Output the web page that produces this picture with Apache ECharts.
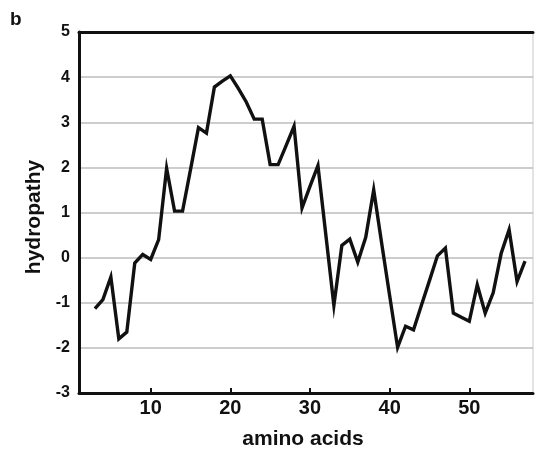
<!DOCTYPE html>
<html>
<head>
<meta charset="utf-8">
<script src="https://cdn.jsdelivr.net/npm/echarts@6/dist/echarts.min.js"></script>
<style>
html,body{margin:0;padding:0;background:#fff;}
#chart{width:535px;height:453px;}
</style>
</head>
<body>
<div id="chart"></div>
<script>
// amino acid positions (window centres)
const aminoAcids = [3,4,5,6,7,8,9,10,11,12,13,14,15,16,17,18,19,20,21,22,23,24,25,26,27,28,29,30,31,32,33,34,35,36,37,38,39,40,41,42,43,44,45,46,47,48,49,50,51,52,53,54,55,56,57];
// hydropathy values
const hydropathy = [-1.13,-0.93,-0.43,-1.80,-1.65,-0.12,0.07,-0.04,0.40,1.98,
  1.03,1.03,1.95,2.88,2.76,3.78,3.91,4.03,3.75,3.45,
  3.07,3.07,2.06,2.06,2.48,2.91,1.10,1.58,2.04,0.49,
  -1.06,0.27,0.41,-0.10,0.45,1.50,0.32,-0.84,-1.99,-1.52,
  -1.60,-1.05,-0.51,0.04,0.21,-1.23,-1.32,-1.41,-0.60,-1.23,
  -0.78,0.09,0.62,-0.53,-0.08];
const xTicks = [10,20,30,40,50];
const yTicks = [-3,-2,-1,0,1,2,3,4,5];
const panelLabel = 'b';
const xTitle = 'amino acids';
const yTitle = 'hydropathy';

const FONT = '"Liberation Sans", Arial, sans-serif';
const chart = echarts.init(document.getElementById('chart'));
chart.setOption({
  animation: false,
  backgroundColor: '#fff',
  grid: {left: 79, top: 32, right: 2, bottom: 60, show: true, borderColor: '#c8c8c8', borderWidth: 1},
  xAxis: [{
    type: 'value', min: 1, max: 58,
    axisLine: {show: true, onZero: false, lineStyle: {color: '#111', width: 3}},
    axisTick: {show: true, inside: true, length: 5, customValues: xTicks, lineStyle: {color: '#111', width: 2}},
    axisLabel: {customValues: xTicks, fontFamily: FONT, fontWeight: 'bold', fontSize: 20, color: '#111', margin: 5},
    splitLine: {show: false}
  }, {
    type: 'value', min: 1, max: 58, position: 'top',
    axisLine: {show: true, onZero: false, lineStyle: {color: '#111', width: 3}},
    axisTick: {show: false}, axisLabel: {show: false}, splitLine: {show: false}
  }],
  yAxis: {
    type: 'value', min: yTicks[0], max: yTicks[yTicks.length - 1], interval: 1,
    axisLine: {show: true, onZero: false, lineStyle: {color: '#111', width: 3}},
    axisTick: {show: false},
    axisLabel: {fontFamily: FONT, fontWeight: 'bold', fontSize: 16, color: '#111', margin: 9},
    splitLine: {show: true, lineStyle: {color: '#bdbdbd', width: 1.5}}
  },
  series: [{
    type: 'line',
    data: aminoAcids.map((a, i) => [a, hydropathy[i]]),
    showSymbol: false,
    lineStyle: {color: '#111', width: 3.4, join: 'miter'},
    z: 5
  }],
  graphic: [
    {type: 'text', left: 10, top: 10, style: {text: panelLabel, fontFamily: FONT, fontWeight: 'bold', fontSize: 19, fill: '#111'}},
    {type: 'text', x: 303, y: 439, style: {text: xTitle, fontFamily: FONT, fontWeight: 'bold', fontSize: 21, fill: '#111', align: 'center', verticalAlign: 'middle'}},
    {type: 'text', x: 34, y: 217, rotation: Math.PI / 2, style: {text: yTitle, fontFamily: FONT, fontWeight: 'bold', fontSize: 21, fill: '#111', align: 'center', verticalAlign: 'middle'}}
  ]
});
</script>
</body>
</html>
